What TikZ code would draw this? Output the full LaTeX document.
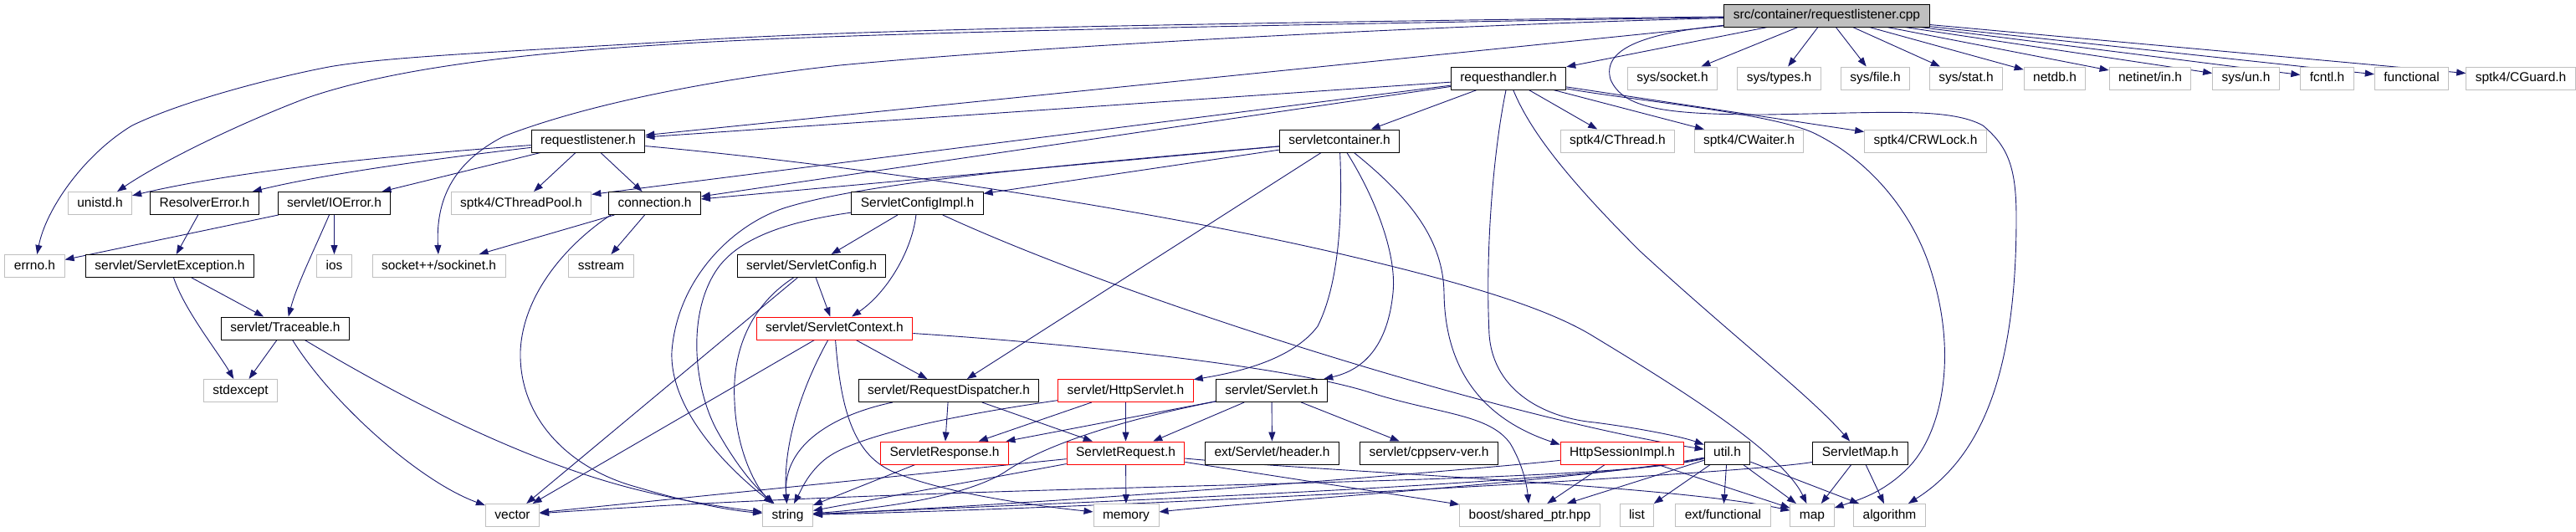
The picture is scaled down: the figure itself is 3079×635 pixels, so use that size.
\documentclass[tikz,border=0pt]{standalone}
\usepackage{fontspec}
\setmainfont{Liberation Sans}
\usetikzlibrary{arrows.meta,backgrounds}
\definecolor{navy}{HTML}{191970}
\definecolor{gry}{HTML}{BFBFBF}
\definecolor{rd}{HTML}{FF0000}
\tikzset{
  nd/.style={draw=black, fill=white, line width=1pt, minimum height=27pt, inner xsep=11pt, inner ysep=0pt,
    text height=11pt, text depth=3pt, font=\fontsize{15.5}{18}\selectfont},
  xn/.style={nd, draw=gry},
  rn/.style={nd, draw=rd},
  ctr/.style={nd, fill=gry},
  ed/.style={draw=navy, line width=0.9pt, -{Triangle[length=11pt,width=8pt]}}
}
\begin{document}
\begin{tikzpicture}[x=1pt,y=-1pt]
\useasboundingbox (0,0) rectangle (3079,635);
% row 0
\node[ctr] (cpp) at (2183.5,18.5) {src/container/requestlistener.cpp};
% row 1
\node[nd] (rh) at (1803,93.5) {requesthandler.h};
\node[xn] (sock) at (1999,93.5) {sys/socket.h};
\node[xn] (types) at (2126.5,93.5) {sys/types.h};
\node[xn] (file) at (2241.5,93.5) {sys/file.h};
\node[xn] (stat) at (2350,93.5) {sys/stat.h};
\node[xn] (netdb) at (2456,93.5) {netdb.h};
\node[xn] (netin) at (2570,93.5) {netinet/in.h};
\node[xn] (sysun) at (2684.5,93.5) {sys/un.h};
\node[xn] (fcntl) at (2781.5,93.5) {fcntl.h};
\node[xn] (func) at (2882.5,93.5) {functional};
\node[xn] (cguard) at (3013,93.5) {sptk4/CGuard.h};
% row 2
\node[nd] (rl) at (703,168.5) {requestlistener.h};
\node[nd] (sc) at (1601,168.5) {servletcontainer.h};
\node[xn] (cthread) at (1933.5,168.5) {sptk4/CThread.h};
\node[xn] (cwaiter) at (2090.5,168.5) {sptk4/CWaiter.h};
\node[xn] (crw) at (2301.5,168.5) {sptk4/CRWLock.h};
% row 3
\node[xn] (unistd) at (119.5,243) {unistd.h};
\node[nd] (resolver) at (244.5,243) {ResolverError.h};
\node[nd] (ioerr) at (399.5,243) {servlet/IOError.h};
\node[xn] (ctp) at (623,243) {sptk4/CThreadPool.h};
\node[nd] (conn) at (782.5,243) {connection.h};
\node[nd] (sci) at (1096.5,243) {ServletConfigImpl.h};
% row 4
\node[xn] (errno) at (41.5,318) {errno.h};
\node[nd] (sexc) at (203,318) {servlet/ServletException.h};
\node[xn] (ios) at (399.5,318) {ios};
\node[xn] (sockinet) at (524.5,318) {socket++/sockinet.h};
\node[xn] (sstream) at (718.5,318) {sstream};
\node[nd] (scfg) at (970,318) {servlet/ServletConfig.h};
% row 5
\node[nd] (trace) at (341,392.5) {servlet/Traceable.h};
\node[rn] (sctx) at (997.5,392.5) {servlet/ServletContext.h};
% row 6
\node[xn] (stdexc) at (287.5,467) {stdexcept};
\node[nd] (rdisp) at (1134,467) {servlet/RequestDispatcher.h};
\node[rn] (hs) at (1345.5,467) {servlet/HttpServlet.h};
\node[nd] (servlet) at (1520,467) {servlet/Servlet.h};
% row 7
\node[rn] (sresp) at (1129,541.5) {ServletResponse.h};
\node[rn] (sreq) at (1345.5,541.5) {ServletRequest.h};
\node[nd] (header) at (1520.5,541.5) {ext/Servlet/header.h};
\node[nd] (ver) at (1708,541.5) {servlet/cppserv-ver.h};
\node[rn] (hsi) at (1939,541.5) {HttpSessionImpl.h};
\node[nd] (util) at (2064.5,541.5) {util.h};
\node[nd] (smap) at (2223.5,541.5) {ServletMap.h};
% row 8
\node[xn] (vector) at (612.5,616) {vector};
\node[xn] (string) at (941.5,616) {string};
\node[xn] (memory) at (1346,616) {memory};
\node[xn] (boost) at (1828.5,616) {boost/shared\_ptr.hpp};
\node[xn] (list) at (1956.5,616) {list};
\node[xn] (extfunc) at (2059.5,616) {ext/functional};
\node[xn] (map) at (2166,616) {map};
\node[xn] (algo) at (2258.5,616) {algorithm};

\begin{scope}[on background layer]
\fill[white] (0,0) rectangle (3079,635);
% from cpp
\draw[ed] (cpp) -- (rh);
\foreach \t in {sock,types,file,stat,netdb,netin,sysun,fcntl,func,cguard} \draw[ed] (cpp) -- (\t);
\draw[ed] (cpp) -- (rl);
\draw[ed] (cpp) .. controls (1400,32) and (1000,40) .. (800,53) .. controls (600,65) and (460,85) .. (367,117) .. controls (280,150) and (190,195) .. (unistd);
\draw[ed] (cpp) .. controls (1400,28) and (1000,36) .. (800,50) .. controls (600,62) and (460,68) .. (393,80) .. controls (330,92) and (220,120) .. (158,150) .. controls (100,185) and (55,250) .. (errno);
\draw[ed] (cpp) .. controls (1800,28) and (1300,50) .. (1004,78) .. controls (850,95) and (700,125) .. (602,163) .. controls (540,195) and (521,240) .. (sockinet);
\draw[ed] (cpp) .. controls (1960,40) and (1915,60) .. (1925,95) .. controls (1940,130) and (1990,137) .. (2110,137) .. controls (2250,135) and (2330,128) .. (2370,150) .. controls (2400,175) and (2410,200) .. (2410,260) .. controls (2410,420) and (2380,540) .. (algo);
% from requesthandler.h
\draw[ed] (rh) -- (rl);
\draw[ed] (rh) -- (ctp);
\draw[ed] (rh) -- (conn);
\draw[ed] (rh) -- (sc);
\draw[ed] (rh) -- (cthread);
\draw[ed] (rh) -- (cwaiter);
\draw[ed] (rh) -- (crw);
\draw[ed] (rh) .. controls (1785,180) and (1775,300) .. (1780,400) .. controls (1785,470) and (1850,500) .. (1906,505) .. controls (1960,512) and (2010,522) .. (util);
\draw[ed] (rh) .. controls (1830,160) and (1880,220) .. (1960,300) .. controls (2080,410) and (2160,470) .. (smap);
\draw[ed] (rh) .. controls (1950,120) and (2120,135) .. (2170,160) .. controls (2240,195) and (2290,260) .. (2310,330) .. controls (2340,430) and (2320,520) .. (2280,560) .. controls (2250,590) and (2220,598) .. (map);
% from requestlistener.h
\draw[ed] (rl) .. controls (520,182) and (300,200) .. (unistd);
\draw[ed] (rl) .. controls (560,185) and (400,205) .. (resolver);
\draw[ed] (rl) -- (ioerr);
\draw[ed] (rl) -- (ctp);
\draw[ed] (rl) -- (conn);
\draw[ed] (rl) .. controls (1000,195) and (1350,245) .. (1600,303) .. controls (1750,338) and (1850,368) .. (1906,403) .. controls (2000,460) and (2130,540) .. (map);
% misc upper-left
\draw[ed] (resolver) -- (sexc);
\draw[ed] (ioerr) -- (errno);
\draw[ed] (ioerr) -- (ios);
\draw[ed] (ioerr) .. controls (375,300) and (355,340) .. (trace);
\draw[ed] (sexc) -- (trace);
\draw[ed] (sexc) .. controls (220,370) and (260,420) .. (stdexc);
\draw[ed] (trace) -- (stdexc);
\draw[ed] (trace) .. controls (395,480) and (500,575) .. (vector);
\draw[ed] (trace) .. controls (470,470) and (620,550) .. (760,585) .. controls (820,600) and (870,607) .. (string);
% connection.h
\draw[ed] (conn) -- (sockinet);
\draw[ed] (conn) -- (sstream);
\draw[ed] ([xshift=3pt]conn.south west) .. controls (680,290) and (625,350) .. (622,420) .. controls (620,500) and (680,560) .. (760,582) .. controls (820,600) and (870,610) .. (string);
% servletcontainer.h
\draw[ed] (sc) -- (conn);
\draw[ed] (sc) -- (sci);
\draw[ed] (sc) .. controls (1300,195) and (1050,215) .. (943,247) .. controls (880,265) and (810,330) .. (803,420) .. controls (800,490) and (870,560) .. (string);
\draw[ed] (sc) -- (rdisp);
\draw[ed] (sc) .. controls (1605,260) and (1600,340) .. (1575,390) .. controls (1545,430) and (1480,445) .. (hs);
\draw[ed] (sc) .. controls (1640,230) and (1670,300) .. (1665,350) .. controls (1660,400) and (1640,440) .. (servlet);
\draw[ed] (sc) .. controls (1690,240) and (1725,290) .. (1726,350) .. controls (1727,440) and (1770,500) .. ([yshift=-4pt]hsi.north west);
% ServletConfigImpl.h
\draw[ed] (sci) -- (scfg);
\draw[ed] (sci) .. controls (1090,300) and (1060,350) .. (sctx);
\draw[ed] (sci) .. controls (940,265) and (880,285) .. (855,325) .. controls (820,380) and (830,470) .. (860,520) .. controls (880,555) and (900,580) .. (string);
\draw[ed] (sci) .. controls (1350,360) and (1800,500) .. (util);
% ServletConfig.h
\draw[ed] (scfg) -- (sctx);
\draw[ed] (scfg) .. controls (890,370) and (875,430) .. (878,480) .. controls (880,540) and (905,585) .. (string);
\draw[ed] (scfg) -- (vector);
% ServletContext.h
\draw[ed] (sctx) -- (vector);
\draw[ed] (sctx) .. controls (960,460) and (935,530) .. (string);
\draw[ed] (sctx) .. controls (1005,490) and (1020,545) .. (1070,565) .. controls (1130,590) and (1240,605) .. (memory);
\draw[ed] (sctx) -- (rdisp);
\draw[ed] (sctx) .. controls (1300,412) and (1550,440) .. (1640,470) .. controls (1720,495) and (1780,495) .. (1805,530) .. controls (1820,555) and (1825,580) .. (boost);
% RequestDispatcher.h
\draw[ed] (rdisp) -- (sresp);
\draw[ed] (rdisp) -- (sreq);
\draw[ed] (rdisp) .. controls (1000,495) and (935,530) .. (string);
% HttpServlet.h
\draw[ed] (hs) -- (sresp);
\draw[ed] (hs) -- (sreq);
\draw[ed] (hs) .. controls (1150,495) and (1020,520) .. (985,550) .. controls (965,567) and (958,585) .. (string);
% Servlet.h
\draw[ed] (servlet) -- (sresp);
\draw[ed] (servlet) -- (sreq);
\draw[ed] (servlet) -- (header);
\draw[ed] (servlet) -- (ver);
\draw[ed] (servlet) .. controls (1350,500) and (1250,530) .. (1200,565) .. controls (1150,595) and (1050,608) .. (string);
% ServletResponse.h / ServletRequest.h
\draw[ed] (sresp) -- (string);
\draw[ed] (sreq) -- (string);
\draw[ed] (sreq) -- (vector);
\draw[ed] (sreq) -- (memory);
\draw[ed] (sreq) -- (boost);
\draw[ed] (sreq) .. controls (1600,565) and (2000,580) .. (map);
% HttpSessionImpl.h
\draw[ed] (hsi) -- (boost);
\draw[ed] (hsi) -- (map);
\draw[ed] (hsi) .. controls (1800,558) and (1300,600) .. (string);
% util.h
\draw[ed] (util) -- (list);
\draw[ed] (util) -- (extfunc);
\draw[ed] (util) -- (map);
\draw[ed] (util) -- (algo);
\draw[ed] (util) -- (boost);
\draw[ed] (util) .. controls (1900,578) and (1300,600) .. (string);
\draw[ed] (util) .. controls (1900,582) and (1200,575) .. (vector);
\draw[ed] (util) .. controls (1900,574) and (1500,600) .. (memory);
% ServletMap.h
\draw[ed] (smap) -- (map);
\draw[ed] (smap) -- (algo);
\draw[ed] (smap) .. controls (2100,565) and (1400,605) .. (string);
\end{scope}
\end{tikzpicture}
\end{document}
